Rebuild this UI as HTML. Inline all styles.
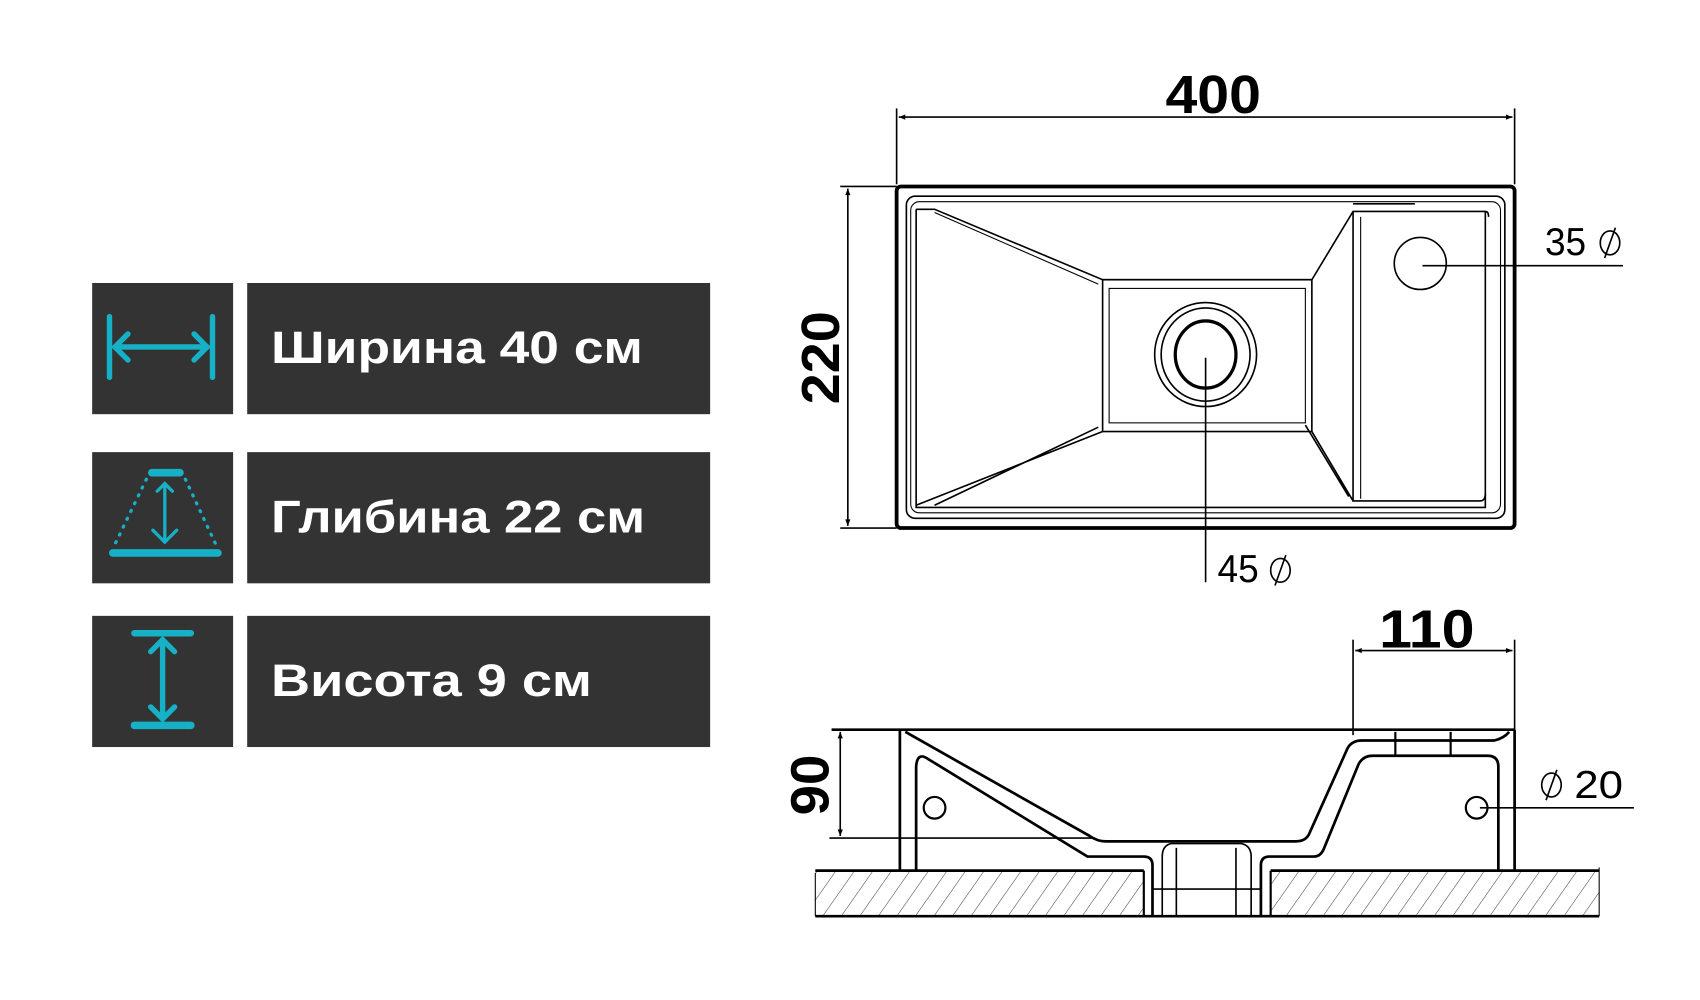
<!DOCTYPE html>
<html><head><meta charset="utf-8"><style>html,body{margin:0;padding:0;background:#fff}svg{display:block}</style></head>
<body>
<svg width="1700" height="1000" viewBox="0 0 1568 922.3" preserveAspectRatio="none" xmlns="http://www.w3.org/2000/svg">
<defs>
<pattern id="h" width="14" height="14" patternUnits="userSpaceOnUse" patternTransform="rotate(35)">
<line x1="0" y1="0" x2="0" y2="14" stroke="#444" stroke-width="1"/>
</pattern>
<marker id="a" viewBox="0 0 10 10" refX="10" refY="5" markerWidth="14" markerHeight="6" orient="auto-start-reverse" markerUnits="userSpaceOnUse"><path d="M0,1 L10,5 L0,9" fill="#000"/></marker>
</defs>
<g fill="#333">
<rect x="85" y="261" width="130" height="121"/><rect x="228" y="261" width="427" height="121"/>
<rect x="85" y="417" width="130" height="121"/><rect x="228" y="417" width="427" height="121"/>
<rect x="85" y="568" width="130" height="121"/><rect x="228" y="568" width="427" height="121"/>
</g>
<g fill="#fff" font-family="Liberation Sans, sans-serif" font-weight="bold" font-size="42">
<text x="250" y="335" textLength="343" lengthAdjust="spacingAndGlyphs">Ширина 40 см</text>
<text x="250" y="491" textLength="345" lengthAdjust="spacingAndGlyphs">Глибина 22 см</text>
<text x="250" y="642" textLength="296" lengthAdjust="spacingAndGlyphs">Висота 9 см</text>
</g>
<g stroke="#17b1c7" fill="none" stroke-linecap="round">
<line x1="101" y1="292" x2="101" y2="348" stroke-width="5"/>
<line x1="196" y1="292" x2="196" y2="348" stroke-width="5"/>
<line x1="106" y1="320" x2="191" y2="320" stroke-width="5"/>
<polyline points="118,308 106,320 118,332" stroke-width="5"/>
<polyline points="179,308 191,320 179,332" stroke-width="5"/>
<line x1="140" y1="436" x2="166" y2="436" stroke-width="7"/>
<line x1="104" y1="510" x2="201" y2="510" stroke-width="7"/>
<line x1="135" y1="442" x2="106" y2="502" stroke-width="3" stroke-dasharray="1 7"/>
<line x1="171" y1="442" x2="199" y2="502" stroke-width="3" stroke-dasharray="1 7"/>
<line x1="152" y1="446" x2="152" y2="500" stroke-width="3"/>
<polyline points="145,453 152,446 159,453" stroke-width="3"/>
<polyline points="141,489 152,500 163,489" stroke-width="3"/>
<line x1="124" y1="584" x2="176" y2="584" stroke-width="6"/>
<line x1="124" y1="669" x2="176" y2="669" stroke-width="7"/>
<line x1="150" y1="590" x2="150" y2="663" stroke-width="5"/>
<polyline points="139,601 150,590 161,601" stroke-width="5"/>
<polyline points="139,652 150,663 161,652" stroke-width="5"/>
</g>
<g stroke="#000" fill="none">
<line x1="827" y1="100" x2="827" y2="170" stroke-width="1.5"/>
<line x1="1397" y1="100" x2="1397" y2="170" stroke-width="1.5"/>
<line x1="829" y1="108" x2="1395" y2="108" stroke-width="1.5" marker-start="url(#a)" marker-end="url(#a)"/>
<line x1="775" y1="172" x2="827" y2="172" stroke-width="1.5"/>
<line x1="775" y1="487" x2="827" y2="487" stroke-width="1.5"/>
<line x1="782" y1="174" x2="782" y2="485" stroke-width="1.5" marker-start="url(#a)" marker-end="url(#a)"/>
<rect x="827" y="172" width="570" height="315" rx="4" stroke-width="3.5"/>
<rect x="836" y="181" width="552" height="297" rx="8" stroke-width="1.5"/>
<rect x="840" y="186" width="544" height="287" rx="8" stroke-width="1"/>
<path d="M845,193 L845,468 L862,468 L1370,468 L1370,195" stroke-width="1.5"/>
<path d="M845,193 L862,193 L1017,258 L1210,258 L1248,195 L1370,195 Q1373,195 1373,200" stroke-width="1.5"/>
<path d="M1248,188 L1305,188" stroke-width="1.5"/>
<path d="M862,196 L1013,262" stroke-width="1"/>
<rect x="1017" y="258" width="193" height="140" stroke-width="1.5"/>
<rect x="1023" y="266" width="181" height="124" stroke-width="1"/>
<path d="M845,466 L1017,398 M862,466 L1013,394 M1210,398 L1248,462 M1204,392 L1244,458" stroke-width="1.5"/>
<path d="M1248,195 L1248,462 L1365,462 Q1370,462 1370,455" stroke-width="1.5"/>
<path d="M1255,200 L1255,460" stroke-width="1"/>
<ellipse cx="1112" cy="327" rx="47" ry="48" stroke-width="1.5"/>
<ellipse cx="1112" cy="327" rx="41" ry="43" stroke-width="1.5"/>
<ellipse cx="1112" cy="327" rx="28" ry="31" stroke-width="3"/>
<circle cx="1310" cy="243" r="24" stroke-width="1.5"/>
<line x1="1312" y1="245" x2="1497" y2="245" stroke-width="1.5"/>
<line x1="1112" y1="330" x2="1112" y2="537" stroke-width="1.5"/>
</g>
<g font-family="Liberation Sans, sans-serif" font-weight="bold" font-size="50" fill="#000">
<text x="1075" y="104" textLength="88" lengthAdjust="spacingAndGlyphs">400</text>
<text transform="translate(774,373) rotate(-90)" textLength="86" lengthAdjust="spacingAndGlyphs">220</text>
<text x="1272" y="597" textLength="88" lengthAdjust="spacingAndGlyphs">110</text>
<text transform="translate(764,752) rotate(-90)" textLength="56" lengthAdjust="spacingAndGlyphs">90</text>
</g>
<g font-family="Liberation Sans, sans-serif" font-size="36" fill="#000">
<text x="1425" y="235" textLength="38" lengthAdjust="spacingAndGlyphs">35</text>
<text x="1123" y="537" textLength="38" lengthAdjust="spacingAndGlyphs">45</text>
<text x="1452" y="736" textLength="45" lengthAdjust="spacingAndGlyphs">20</text>
</g>
<g stroke="#000" fill="none" stroke-width="1.5">
<ellipse cx="1485" cy="224" rx="9" ry="11"/><line x1="1480" y1="238" x2="1490" y2="210"/>
<ellipse cx="1181" cy="526" rx="9" ry="11"/><line x1="1176" y1="540" x2="1186" y2="512"/>
<ellipse cx="1431" cy="724" rx="9" ry="11"/><line x1="1426" y1="738" x2="1436" y2="710"/>
</g>
<rect x="752" y="803" width="303" height="42" fill="url(#h)"/>
<rect x="1172" y="803" width="303" height="42" fill="url(#h)"/>
<g stroke="#000" fill="none">
<line x1="1248" y1="590" x2="1248" y2="678" stroke-width="1.5"/>
<line x1="1397" y1="590" x2="1397" y2="676" stroke-width="1.5"/>
<line x1="1250" y1="600" x2="1395" y2="600" stroke-width="1.5" marker-start="url(#a)" marker-end="url(#a)"/>
<line x1="767" y1="673" x2="1397" y2="673" stroke-width="2.5"/>
<line x1="765" y1="773" x2="1010" y2="773" stroke-width="1.5"/>
<line x1="775" y1="675" x2="775" y2="771" stroke-width="1.5" marker-start="url(#a)" marker-end="url(#a)"/>
<line x1="830" y1="673" x2="830" y2="803" stroke-width="2.5"/>
<line x1="1397" y1="673" x2="1397" y2="803" stroke-width="2.5"/>
<path d="M835,675 L1005,771 Q1012,776 1020,776 L1195,776 Q1205,776 1208,768 L1243,690 Q1247,683 1256,683 L1378,683 Q1387,681 1392,675" stroke-width="2.5"/>
<path d="M845,803 L845,707 Q846,693 856,700 L1003,790 L1055,790 Q1063,790 1063,798 L1063,845" stroke-width="2.5"/>
<path d="M1163,845 L1163,798 Q1163,790 1171,790 L1212,790 Q1218,790 1221,783 L1253,705 Q1257,697 1266,697 L1372,697 Q1382,697 1382,707 L1382,803" stroke-width="2.5"/>
<path d="M1072,845 L1072,790 Q1072,780 1080,778 L1145,778 Q1154,780 1154,790 L1154,845" stroke-width="1.5"/>
<line x1="1085" y1="782" x2="1085" y2="845" stroke-width="1.5"/>
<line x1="1140" y1="782" x2="1140" y2="845" stroke-width="1.5"/>
<line x1="1063" y1="820" x2="1163" y2="820" stroke-width="1.5"/>
<line x1="1287" y1="675" x2="1287" y2="697" stroke-width="2"/>
<line x1="1338" y1="675" x2="1338" y2="697" stroke-width="2"/>
<line x1="1055" y1="803" x2="1055" y2="845" stroke-width="2"/>
<line x1="1172" y1="803" x2="1172" y2="845" stroke-width="2"/>
<line x1="752" y1="803" x2="1055" y2="803" stroke-width="2.5"/>
<line x1="1172" y1="803" x2="1475" y2="803" stroke-width="2.5"/>
<line x1="752" y1="845" x2="1475" y2="845" stroke-width="2.5"/>
<line x1="752" y1="805" x2="752" y2="845" stroke-width="1"/>
<line x1="1475" y1="800" x2="1475" y2="845" stroke-width="1"/>
<circle cx="862" cy="745" r="10" stroke-width="2"/>
<circle cx="1362" cy="745" r="10" stroke-width="2"/>
<line x1="1365" y1="745" x2="1507" y2="745" stroke-width="1.5"/>
</g>
</svg>
</body></html>
